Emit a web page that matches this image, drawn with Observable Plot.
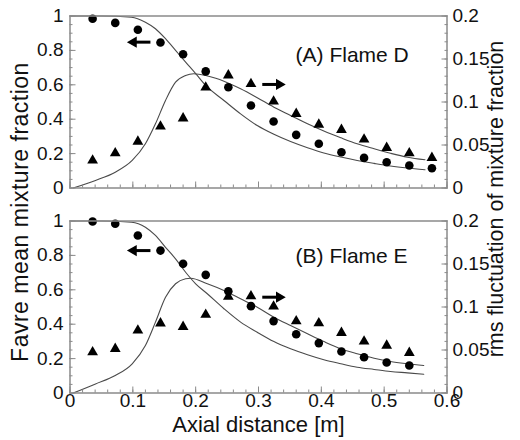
<!DOCTYPE html>
<html><head><meta charset="utf-8">
<script src="https://cdn.jsdelivr.net/npm/d3@7"></script>
<script src="https://cdn.jsdelivr.net/npm/@observablehq/plot@0.6"></script>
<style>
body{margin:0;background:#fff;}
#wrap{position:relative;width:520px;height:440px;font-family:"Liberation Sans",Arial,sans-serif;}
#wrap svg{position:absolute;left:0;overflow:visible;}
</style></head><body><div id="wrap"></div>
<script>
// ---------- data ----------
// measured points (circles = Favre mean, triangles = rms), x in m
const xObsD = [0.036,0.072,0.108,0.144,0.18,0.216,0.252,0.288,0.324,0.36,0.396,0.432,0.468,0.504,0.54,0.576];
const meanObsD = [0.984,0.960,0.920,0.846,0.778,0.678,0.586,0.480,0.387,0.309,0.257,0.208,0.175,0.150,0.131,0.115];
const rmsObsD = [0.032,0.0405,0.054,0.0715,0.081,0.117,0.131,0.121,0.1006,0.0863,0.0738,0.0677,0.0564,0.0467,0.0405,0.0351];

const xObsE = [0.036,0.072,0.108,0.144,0.18,0.216,0.252,0.288,0.324,0.36,0.396,0.432,0.468,0.504,0.54];
const meanObsE = [0.997,0.984,0.916,0.828,0.751,0.687,0.592,0.505,0.418,0.342,0.290,0.241,0.208,0.177,0.160];
const rmsObsE = [0.0474,0.0514,0.0727,0.081,0.077,0.091,0.112,0.1126,0.1006,0.0835,0.0812,0.070,0.0599,0.0552,0.0467];

// model curves
const xMeanD = [0,0.05,0.098,0.120,0.136,0.152,0.168,0.184,0.200,0.216,0.245,0.2715,0.298,0.3245,0.351,0.378,0.404,0.431,0.457,0.484,0.510,0.537,0.565];
const meanModelD = [1.0,1.0,0.993,0.964,0.926,0.868,0.800,0.732,0.665,0.596,0.509,0.431,0.363,0.312,0.270,0.234,0.204,0.180,0.160,0.143,0.128,0.116,0.106];
const xRmsD = [0.005,0.0406,0.072,0.099,0.120,0.136,0.152,0.168,0.184,0.197,0.216,0.232,0.245,0.2715,0.298,0.3245,0.351,0.378,0.404,0.431,0.457,0.484,0.510,0.537,0.565];
const rmsModelD = [0,0.0088,0.0184,0.032,0.0514,0.0746,0.1018,0.123,0.1308,0.1328,0.1308,0.1276,0.1242,0.1154,0.105,0.094,0.0844,0.0746,0.0662,0.0584,0.0514,0.0456,0.0404,0.0358,0.0328];

const xMeanE = [0,0.05,0.098,0.120,0.136,0.152,0.168,0.184,0.200,0.2185,0.245,0.2715,0.298,0.3245,0.351,0.378,0.404,0.431,0.457,0.484,0.510,0.537,0.563];
const meanModelE = [1.0,1.0,0.993,0.964,0.916,0.847,0.780,0.702,0.635,0.577,0.490,0.412,0.353,0.299,0.257,0.222,0.193,0.170,0.150,0.137,0.125,0.117,0.109];
const xRmsE = [0.005,0.0406,0.072,0.099,0.120,0.136,0.152,0.168,0.184,0.192,0.2185,0.245,0.2715,0.298,0.3245,0.351,0.378,0.404,0.431,0.457,0.484,0.510,0.537,0.563];
const rmsModelE = [0,0.0106,0.0204,0.034,0.0552,0.0824,0.1114,0.127,0.1328,0.1334,0.127,0.1192,0.1096,0.0998,0.0882,0.0784,0.0688,0.0598,0.0514,0.0456,0.0404,0.0366,0.034,0.032];

// ticks
const xMajorTicks = [0,0.1,0.2,0.3,0.4,0.5,0.6];
const xMinorTicks = d3.range(0,31).map(i => i/50);
const meanTicks = [0,0.2,0.4,0.6,0.8,1];
const meanMinorTicks = d3.range(0,21).map(i => i/20);
const rmsTicks = [0,0.05,0.1,0.15,0.2];
const rmsMinorTicks = d3.range(0,21).map(i => i/100);

// text
const panelLabels = ["(A) Flame D", "(B) Flame E"];
const xTitle = "Axial distance [m]";
const yTitleLeft = "Favre mean mixture fraction";
const yTitleRight = "rms fluctuation of mixture fraction";

// annotation anchors (data coords)
const labelPos = [{x:0.359, y:0.770}, {x:0.359, y:0.794}];
const arrowsD = [{x1:0.128, x2:0.101, y:0.848, rot:-90}, {x1:0.306, x2:0.333, y:0.602, rot:90}];
const arrowsE = [{x1:0.128, x2:0.101, y:0.828, rot:-90}, {x1:0.306, x2:0.333, y:0.557, rot:90}];

// ---------- drawing ----------
const RMS = 5; // right axis (0..0.2) onto left domain (0..1)
const FONT = "'Liberation Sans', Arial, sans-serif";
const FRAME = "#8a8a8a";

function panel(cfg) {
  const obs = cfg.xObs.map((x,i) => ({x, mean: cfg.meanObs[i], rms: cfg.rmsObs[i]}));
  const meanLine = cfg.xMean.map((x,i) => ({x, v: cfg.meanModel[i]}));
  const rmsLine = cfg.xRms.map((x,i) => ({x, v: cfg.rmsModel[i]}));
  const fmtL = d => String(+d.toFixed(1));
  const fmtR = d => String(+(d/RMS).toFixed(2));
  const blank = () => "";
  const marks = [
    Plot.line(meanLine, {x:"x", y:"v", stroke:"#4a4a4a", strokeWidth:1.1, curve:"monotone-x"}),
    Plot.line(rmsLine, {x:"x", y:d => d.v*RMS, stroke:"#4a4a4a", strokeWidth:1.1, curve:"monotone-x"}),
    Plot.dot(obs, {x:"x", y:"mean", r:4.3, fill:"black", stroke:"none", symbol:"circle"}),
    Plot.dot(obs, {x:"x", y:d => d.rms*RMS, r:4.0, fill:"black", stroke:"none", symbol:"triangle"}),
    Plot.link(cfg.arrows, {x1:"x1", x2:"x2", y1:"y", y2:"y", stroke:"black", strokeWidth:3}),
    Plot.dot(cfg.arrows, {x:"x2", y:"y", r:4.2, symbol:"triangle", fill:"black", stroke:"none", rotate:"rot"}),
    Plot.text([cfg.label], {x:cfg.labelPos.x, y:cfg.labelPos.y, text:d => d, textAnchor:"start", fontSize:21, fill:"#111"}),
    Plot.frame({stroke:FRAME, strokeWidth:1.5}),
    // left axis
    Plot.axisY({anchor:"left", ticks:meanMinorTicks, tickSize:-3, tickFormat:blank, stroke:FRAME, label:null}),
    Plot.axisY({anchor:"left", ticks:meanTicks, tickSize:-6, tickPadding:12.5, tickFormat:fmtL, stroke:FRAME, fill:"#111", fontSize:19, label:null}),
    // right axis
    Plot.axisY({anchor:"right", ticks:rmsMinorTicks.map(v => v*RMS), tickSize:-3, tickFormat:blank, stroke:FRAME, label:null}),
    Plot.axisY({anchor:"right", ticks:rmsTicks.map(v => v*RMS), tickSize:-6, tickPadding:11.5, tickFormat:fmtR, stroke:FRAME, fill:"#111", fontSize:19, label:null}),
    // bottom axis
    Plot.axisX({anchor:"bottom", ticks:xMinorTicks, tickSize:-3, tickFormat:blank, stroke:FRAME, label:null}),
    Plot.axisX({anchor:"bottom", ticks:xMajorTicks, tickSize:-6, tickPadding:6.5, tickFormat:cfg.xLabels ? (d => String(+d.toFixed(1))) : blank, stroke:FRAME, fill:"#111", fontSize:19, label:null})
  ];
  if (cfg.xLabels) {
    marks.push(Plot.text([xTitle], {frameAnchor:"bottom", text:d => d, dy:38.5, lineAnchor:"bottom", fontSize:22, fill:"#111"}));
  }
  return Plot.plot({
    width:520, height:cfg.height,
    marginLeft:69.5, marginRight:73.5, marginTop:cfg.marginTop, marginBottom:cfg.marginBottom,
    x:{domain:[0,0.6], axis:null, label:null},
    y:{domain:[0,1], axis:null, label:null},
    style:{fontFamily:FONT, fontSize:"19px", color:"#111", background:"transparent", overflow:"visible"},
    marks
  });
}

const wrap = document.getElementById("wrap");
const topPanel = panel({xObs:xObsD, meanObs:meanObsD, rmsObs:rmsObsD, xMean:xMeanD, meanModel:meanModelD, xRms:xRmsD, rmsModel:rmsModelD,
  label:panelLabels[0], labelPos:labelPos[0], arrows:arrowsD, xLabels:false, height:200, marginTop:15.5, marginBottom:12.5});
topPanel.style.top = "0px";
wrap.appendChild(topPanel);
const botPanel = panel({xObs:xObsE, meanObs:meanObsE, rmsObs:rmsObsE, xMean:xMeanE, meanModel:meanModelE, xRms:xRmsE, rmsModel:rmsModelE,
  label:panelLabels[1], labelPos:labelPos[1], arrows:arrowsE, xLabels:true, height:240, marginTop:20.5, marginBottom:47.5});
botPanel.style.top = "200px";
wrap.appendChild(botPanel);

// rotated axis titles
const ov = d3.select(wrap).append("svg").attr("width",520).attr("height",440).style("top","0px").style("pointer-events","none")
  .attr("font-family", FONT).attr("fill", "#111").attr("text-anchor","middle");
ov.append("text").attr("transform","translate(28,212) rotate(-90)").attr("font-size", 23).attr("letter-spacing", "0.5px").text(yTitleLeft);
ov.append("text").attr("transform","translate(503,199) rotate(-90)").attr("font-size", 21.5).text(yTitleRight);
</script></body></html>
